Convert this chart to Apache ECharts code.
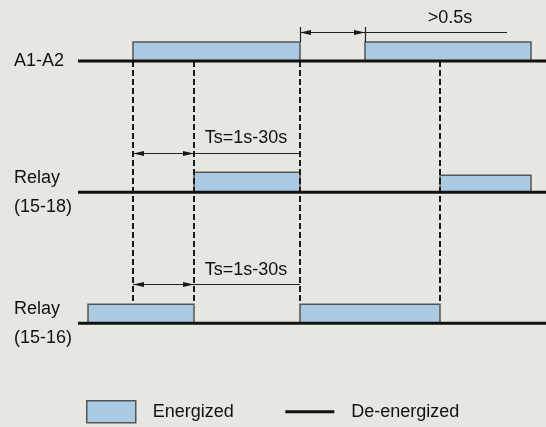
<!DOCTYPE html>
<html>
<head>
<meta charset="utf-8">
<script src="https://cdn.jsdelivr.net/npm/echarts@6/dist/echarts.min.js"></script>
<style>
html,body{margin:0;padding:0;background:#e8e6e0;}
#chart{width:546px;height:427px;}
</style>
</head>
<body>
<div id="chart"></div>
<script>
// ---- data (time in arbitrary units along the diagram) ----
const rowLabels = ['A1-A2', 'Relay\n(15-18)', 'Relay\n(15-16)'];
const timeEnd = 46.8;
const a1a2On = [[5.5, 22.2], [28.7, 45.3]];
const relay1518On = [[11.6, 22.2], [36.2, 45.3]];
const relay1516On = [[1.0, 11.6], [22.2, 36.2]];
const eventTimes = [5.5, 11.6, 22.2, 36.2];
const dimLabels = ['>0.5s', 'Ts=1s-30s', 'Ts=1s-30s'];
const dimRows = [0, 1, 2];
const dimFrom = [22.2, 5.5, 5.5];
const dimTo = [28.7, 11.6, 11.6];
const dimExtendTo = [42.9, 22.2, 22.2];
const dimLabelAt = [37.2, 16.8, 16.8];
const legendNames = ['Energized', 'De-energized'];

// ---- styles ----
const FONT = '"Liberation Sans", Arial, sans-serif';
const FILL = '#aacae4';
const EDGE = '#555555';
const INK = '#111111';
const BAR_H = [[19, 19], [20, 17], [19, 19]];
const DIM_STYLE = [
  {arrowUp: 29.5, labelUp: 43, ticks: true},
  {arrowUp: 39.5, labelUp: 54, ticks: false},
  {arrowUp: 39.2, labelUp: 53, ticks: false}
];

const onSets = [a1a2On, relay1518On, relay1516On];
const barData = [];
onSets.forEach((set, r) => set.forEach((iv, k) => barData.push([iv[0], iv[1], r, k])));
const baseData = rowLabels.map((_, r) => [0, timeEnd, r]);
const dashData = eventTimes.map(t => [t, 0, rowLabels.length - 1]);
const dimData = dimRows.map((r, i) => [dimFrom[i], dimTo[i], dimExtendTo[i], r, dimLabelAt[i], i]);

function arrowHead(tip, dir) {
  const L = 11, W = 2.4;
  return {type: 'polygon', shape: {points: [[tip[0], tip[1]], [tip[0] - dir * L, tip[1] - W], [tip[0] - dir * L, tip[1] + W]]}, style: {fill: '#1a1a1a'}};
}

const chart = echarts.init(document.getElementById('chart'), null, {renderer: 'canvas'});
chart.setOption({
  backgroundColor: '#e8e6e0',
  animation: false,
  grid: {left: 78, right: 0, top: 61, bottom: 103.7},
  xAxis: {type: 'value', min: 0, max: timeEnd, show: false},
  yAxis: {
    type: 'category', data: rowLabels, inverse: true, boundaryGap: false,
    axisLine: {show: false}, axisTick: {show: false}, splitLine: {show: false},
    axisLabel: {align: 'left', margin: 64, color: INK, fontSize: 18, fontFamily: FONT, lineHeight: 29}
  },
  legend: {
    left: 86, top: 400, padding: 0, itemWidth: 49, itemHeight: 22, itemGap: 50,
    selectedMode: false,
    textStyle: {fontSize: 18, fontFamily: FONT, color: INK, padding: [0, 0, 0, 12]},
    data: [
      {name: legendNames[0], icon: 'rect', itemStyle: {color: FILL, borderColor: EDGE, borderWidth: 1.5}},
      {name: legendNames[1], itemStyle: {opacity: 0}, lineStyle: {color: INK, width: 3}}
    ]
  },
  series: [
    {
      type: 'custom', name: legendNames[0], data: barData, z: 2,
      itemStyle: {color: FILL, borderColor: EDGE, borderWidth: 1.5},
      encode: {x: [0, 1], y: 2},
      renderItem(params, api) {
        const r = api.value(2), k = api.value(3);
        const s = api.coord([api.value(0), r]);
        const e = api.coord([api.value(1), r]);
        const h = BAR_H[r][k];
        return {type: 'rect', shape: {x: s[0], y: s[1] - h, width: e[0] - s[0], height: h},
          style: {fill: FILL, stroke: EDGE, lineWidth: 1.5}};
      }
    },
    {
      type: 'custom', name: 'dashes', data: dashData, z: 3, silent: true,
      encode: {x: 0, y: [1, 2]},
      renderItem(params, api) {
        const a = api.coord([api.value(0), api.value(1)]);
        const b = api.coord([api.value(0), api.value(2)]);
        return {type: 'line', shape: {x1: Math.round(a[0]), y1: a[1], x2: Math.round(a[0]), y2: b[1] - 20},
          style: {stroke: '#1a1a1a', lineWidth: 2, lineDash: [6, 3]}};
      }
    },
    {
      type: 'custom', name: 'baselines', data: baseData, z: 4, silent: true,
      encode: {x: [0, 1], y: 2},
      renderItem(params, api) {
        const a = api.coord([api.value(0), api.value(2)]);
        const b = api.coord([api.value(1), api.value(2)]);
        return {type: 'line', shape: {x1: a[0], y1: a[1], x2: b[0], y2: b[1]},
          style: {stroke: INK, lineWidth: 3}};
      }
    },
    {
      type: 'custom', name: 'dims', data: dimData, z: 5, silent: true,
      encode: {x: [0, 2], y: 3},
      renderItem(params, api) {
        const i = api.value(5), st = DIM_STYLE[i], r = api.value(3);
        const pFrom = api.coord([api.value(0), r]);
        const pTo = api.coord([api.value(1), r]);
        const pExt = api.coord([api.value(2), r]);
        const pLab = api.coord([api.value(4), r]);
        const y = Math.round(pFrom[1] - st.arrowUp) + 0.5;
        const children = [
          {type: 'line', shape: {x1: pFrom[0], y1: y, x2: pExt[0], y2: y}, style: {stroke: '#222', lineWidth: 1.2}},
          arrowHead([pFrom[0], y], -1),
          arrowHead([pTo[0], y], 1),
          {type: 'text', style: {text: dimLabels[i], x: pLab[0], y: pFrom[1] - st.labelUp,
            align: 'center', verticalAlign: 'middle', fill: INK, fontSize: 18, fontFamily: FONT}}
        ];
        if (st.ticks) {
          [pFrom, pTo].forEach(p => children.push({type: 'line',
            shape: {x1: Math.round(p[0]) + 0.5, y1: y - 5.5, x2: Math.round(p[0]) + 0.5, y2: pFrom[1] - 19},
            style: {stroke: '#222', lineWidth: 1.2}}));
        }
        return {type: 'group', children};
      }
    },
    {
      type: 'line', name: legendNames[1], data: [], symbol: 'none',
      lineStyle: {color: INK, width: 3}
    }
  ]
});
</script>
</body>
</html>
